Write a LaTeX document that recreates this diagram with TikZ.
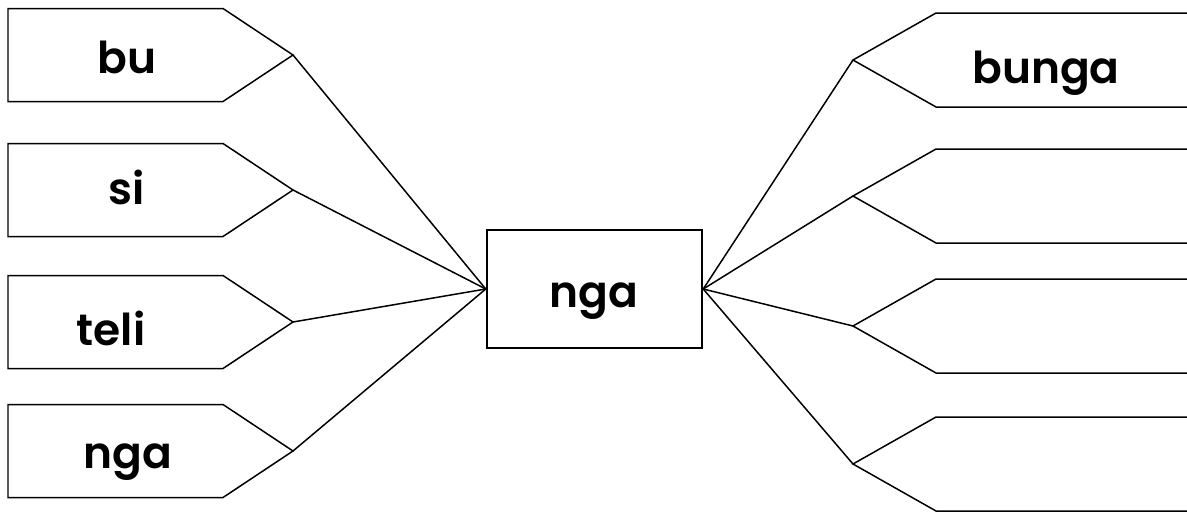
\documentclass[tikz,border=0pt]{standalone}
\usepackage{fontspec}
\setmainfont{Poppins}[BoldFont={Poppins SemiBold}]
\usetikzlibrary{positioning}

\begin{document}
\begin{tikzpicture}[x=0.02cm, y=-0.02cm,
      tag/.style={line width=0.85pt, line join=miter},
      word/.style={font=\fontsize{25}{30}\selectfont\bfseries, anchor=base, inner sep=0pt},
      hubbox/.style={draw, line width=1.4pt, minimum width=215*0.02cm,
                     minimum height=118*0.02cm, inner sep=0pt},
      link/.style={line width=0.85pt}]
    \useasboundingbox (0,0) rectangle (1187,511);

    % left tags, pointing right
    \foreach \nm/\y in {bu/55, si/190, teli/322, ngaL/451}
      \draw[tag] (8,\y-46.5) -- (223,\y-46.5) -- (293,\y) coordinate (\nm)
                 -- (223,\y+46.5) -- (8,\y+46.5) -- cycle;
    \node[word] (tbu)   at (127,73)  {bu};
    \node[word] (tsi)   at (127,204) {si};
    \node[word] (tteli) at (111,345) {teli};
    \node[word] (tngaL) at (128,468) {nga};

    % right tags, pointing left, cut by the page edge
    \foreach \nm/\y in {bunga/60, r2/196, r3/326, r4/464}
      \draw[tag] (1187,\y-47) -- (936,\y-47) -- (853,\y) coordinate (\nm)
                 -- (936,\y+47) -- (1187,\y+47);
    \draw[tag] (1187.3,13) -- (1187.3,107);
    \node[word] (tbunga) at (1046,83) {bunga};

    % centre box
    \node[hubbox] (hub) at (594.5,289) {};
    \node[word] (thub) at (594,307) {nga};

    \foreach \nm in {bu, si, teli, ngaL}
      \draw[link] (\nm) -- (hub.west);
    \foreach \nm in {bunga, r2, r3, r4}
      \draw[link] (\nm) -- (hub.east);
\end{tikzpicture}
\end{document}
